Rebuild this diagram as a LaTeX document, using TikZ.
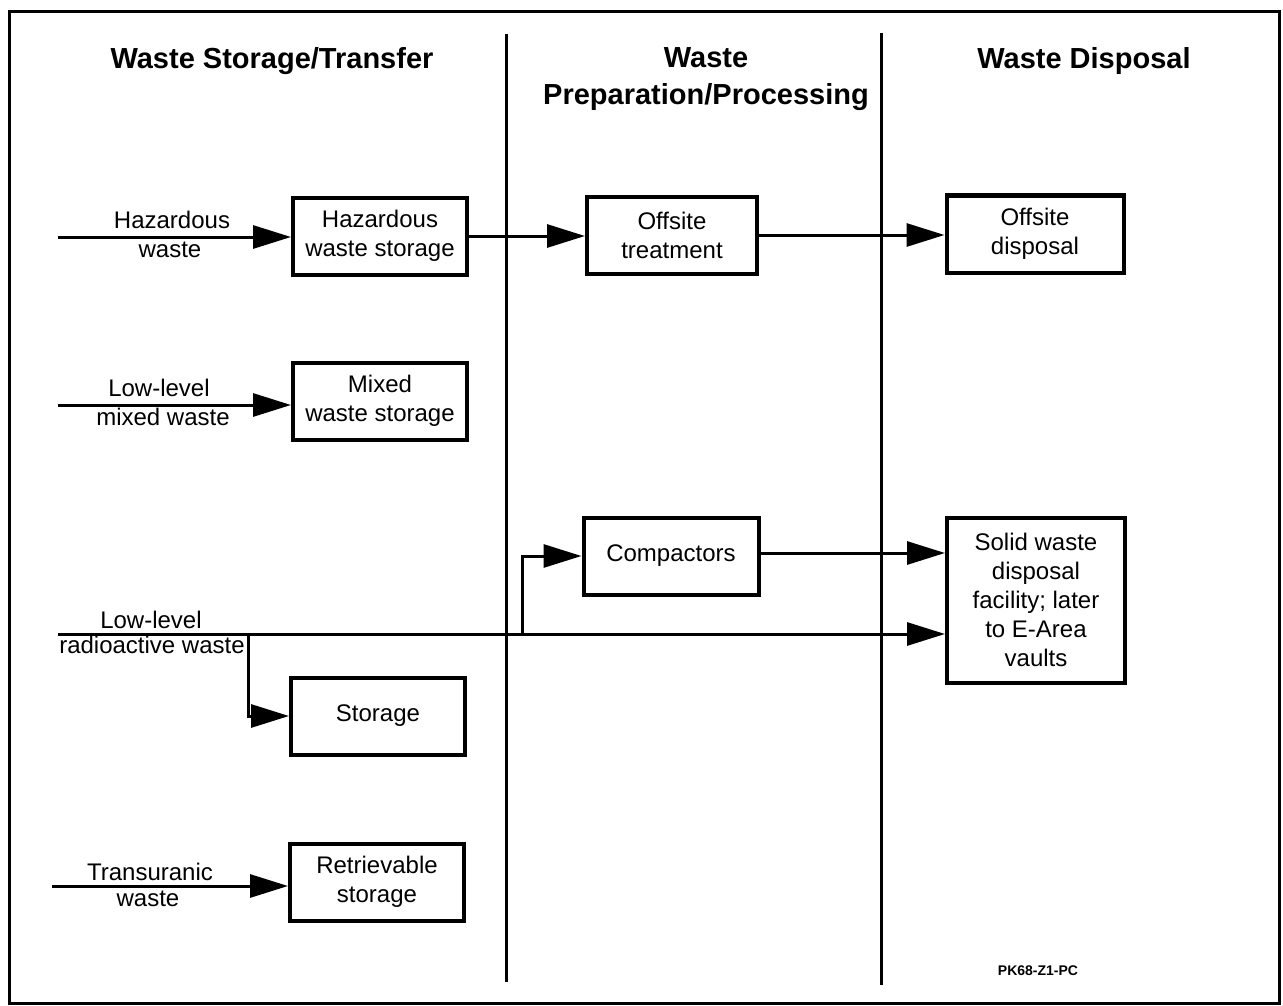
\documentclass[tikz,border=0pt]{standalone}
\usepackage{fontspec}
\setmainfont{Liberation Sans}
\usetikzlibrary{arrows.meta}
\begin{document}
\begin{tikzpicture}[x=1pt,y=-1pt,
  box/.style={draw,line width=4pt,minimum width=174pt,minimum height=77pt,align=center,font=\fontsize{24}{29}\selectfont,inner sep=2pt},
  arr/.style={line width=3pt,-{Triangle[length=38pt,width=23pt]}},
  plain/.style={line width=3pt},
  lbl/.style={font=\fontsize{24}{29}\selectfont,inner sep=0pt,anchor=base},
  head/.style={font=\fontsize{29}{37}\selectfont\bfseries,align=center,inner sep=0pt},
  rulel/.style={line width=3pt}]
\useasboundingbox (0,0) rectangle (1283,1006);
% frame and column dividers
\draw[rulel] (9,12) rectangle (1279,1003);
\draw[rulel] (506,34) -- (506,982);
\draw[rulel] (881,33) -- (881,985);
% headings
\node[head] (h1) at (272,61) {Waste Storage/Transfer};
\node[head] (h2) at (706,79) {Waste\\Preparation/Processing};
\node[head] (h3) at (1084,61) {Waste Disposal};
% boxes
\node[box] (hws) at (380,236) {Hazardous\\waste storage};
\node[box] (mws) at (380,401) {Mixed\\waste storage};
\node[box] (stor) at (378,716) {Storage};
\node[box] (rs) at (377,882) {Retrievable\\storage};
\node[box,minimum width=170pt] (ot) at (672,235) {Offsite\\treatment};
\node[box,minimum width=175pt] (comp) at (671,556) {Compactors};
\node[box,minimum width=177pt] (od) at (1035,234) {Offsite\\disposal};
\node[box,minimum width=178pt,minimum height=165pt] (sw) at (1036,600) {Solid waste\\disposal\\facility; later\\to E-Area\\vaults};
% input arrows
\coordinate (inh) at (58,237);
\coordinate (inm) at (58,405);
\coordinate (inr) at (58,634);
\coordinate (int) at (52,886);
\draw[arr] (inh) -- (inh -| hws.west);
\draw[arr] (inm) -- (inm -| mws.west);
\draw[arr] (int) -- (int -| rs.west);
\draw[arr] (inr) -- (inr -| sw.west);
\coordinate (b1) at (248,634);
\coordinate (b2) at (522,634);
\draw[arr] (b1) |- (stor.west);
\draw[arr] (b2) |- (comp.west);
% flows
\draw[arr] (hws.east) -- (hws.east -| ot.west);
\draw[arr] (ot.east) -- (ot.east -| od.west);
\draw[arr] ([yshift=3pt]comp.east) -- ([yshift=3pt]comp.east -| sw.west);
% input labels
\node[lbl] (lh1) at (172,229) {Hazardous};
\node[lbl] (lh2) at (170,257) {waste};
\node[lbl] (lm1) at (159,396) {Low-level};
\node[lbl] (lm2) at (163,425) {mixed waste};
\node[lbl] (lr1) at (151,628) {Low-level};
\node[lbl] (lr2) at (152,653) {radioactive waste};
\node[lbl] (lt1) at (150,880) {Transuranic};
\node[lbl] (lt2) at (148,906) {waste};
% code
\node[font=\fontsize{14}{16}\selectfont\bfseries,inner sep=0pt] (code) at (1038,971) {PK68-Z1-PC};
\end{tikzpicture}
\end{document}
